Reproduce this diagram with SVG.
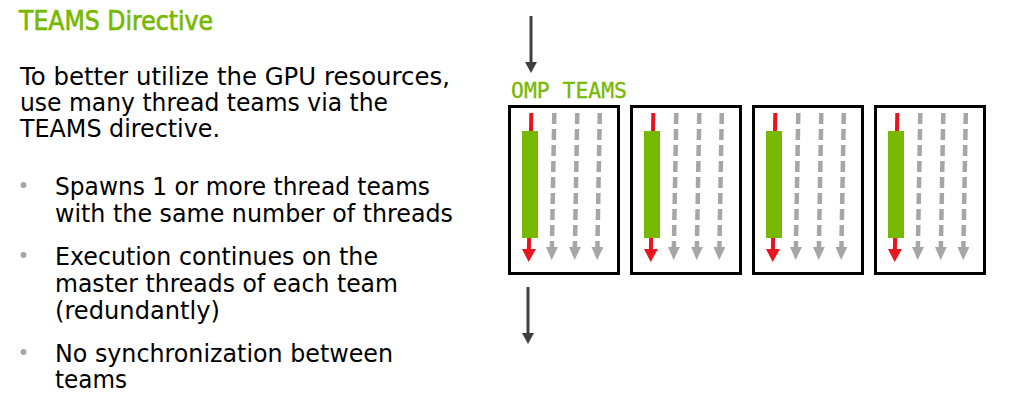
<svg xmlns="http://www.w3.org/2000/svg" width="1020" height="409" viewBox="0 0 1020 409">
<style>
.title{font-family:"DejaVu Sans","Liberation Sans",sans-serif;font-size:26px;fill:#76b900;stroke:#76b900;stroke-width:0.7}
.body{font-family:"DejaVu Sans","Liberation Sans",sans-serif;font-size:25px;fill:#000}
.mono{font-family:"DejaVu Sans Mono","Liberation Mono",monospace;font-size:21px;fill:#76b900;stroke:#76b900;stroke-width:0.3}
.box{fill:#fff;stroke:#000;stroke-width:3}
.master{fill:#76b900}
.red{stroke:#e8141f;stroke-width:4;fill:none}
.gray{stroke:#a6a6a6;stroke-width:4.5;stroke-dasharray:11 5;fill:none}
.flow{stroke:#404040;stroke-width:3;fill:none}
.dot{fill:#a6a6a6}
</style>
<defs>
<marker id="hRed" markerUnits="userSpaceOnUse" markerWidth="13" markerHeight="14" viewBox="0 0 13 14" refX="0" refY="7" orient="auto"><path d="M0,0 L13,7 L0,14 z" fill="#e8141f"/></marker>
<marker id="hGray" markerUnits="userSpaceOnUse" markerWidth="13" markerHeight="12" viewBox="0 0 13 12" refX="0" refY="6" orient="auto"><path d="M0,0 L13,6 L0,12 z" fill="#a6a6a6"/></marker>
<marker id="hDark" markerUnits="userSpaceOnUse" markerWidth="11" markerHeight="12" viewBox="0 0 11 12" refX="0" refY="6" orient="auto"><path d="M0,0 L11,6 L0,12 z" fill="#404040"/></marker>
</defs>
<rect width="1020" height="409" fill="#fff"/>

<g id="text">
<text class="title" x="19" y="30" textLength="194" lengthAdjust="spacingAndGlyphs">TEAMS Directive</text>
<text class="body" x="20" y="85" textLength="430" lengthAdjust="spacingAndGlyphs">To better utilize the GPU resources,</text>
<text class="body" x="20" y="111" textLength="368" lengthAdjust="spacingAndGlyphs">use many thread teams via the</text>
<text class="body" x="20" y="137" textLength="200" lengthAdjust="spacingAndGlyphs">TEAMS directive.</text>
<circle class="dot" cx="23.5" cy="185" r="3"/>
<text class="body" x="55" y="195" textLength="375" lengthAdjust="spacingAndGlyphs">Spawns 1 or more thread teams</text>
<text class="body" x="55" y="222" textLength="398" lengthAdjust="spacingAndGlyphs">with the same number of threads</text>
<circle class="dot" cx="23.5" cy="255" r="3"/>
<text class="body" x="55" y="265" textLength="323" lengthAdjust="spacingAndGlyphs">Execution continues on the</text>
<text class="body" x="55" y="292" textLength="343" lengthAdjust="spacingAndGlyphs">master threads of each team</text>
<text class="body" x="55" y="319" textLength="165" lengthAdjust="spacingAndGlyphs">(redundantly)</text>
<circle class="dot" cx="23.5" cy="352" r="3"/>
<text class="body" x="55" y="362" textLength="338" lengthAdjust="spacingAndGlyphs">No synchronization between</text>
<text class="body" x="55" y="388" textLength="72" lengthAdjust="spacingAndGlyphs">teams</text>
</g>

<g id="label">
<text class="mono" x="511" y="98" textLength="116" lengthAdjust="spacingAndGlyphs">OMP TEAMS</text>
</g>

<g id="team1">
<rect class="box" x="509.5" y="106.5" width="109" height="167"/>
<line class="red" x1="531.3" y1="113" x2="528.9" y2="249" marker-end="url(#hRed)"/>
<rect class="master" x="522" y="131" width="16" height="107"/>
<line class="gray" x1="554.3" y1="113" x2="551.9" y2="247" marker-end="url(#hGray)"/>
<line class="gray" x1="577.3" y1="113" x2="574.9" y2="247" marker-end="url(#hGray)"/>
<line class="gray" x1="599.8" y1="113" x2="597.4" y2="247" marker-end="url(#hGray)"/>
</g>
<g id="team2">
<rect class="box" x="631.5" y="106.5" width="109" height="167"/>
<line class="red" x1="653.3" y1="113" x2="650.9" y2="249" marker-end="url(#hRed)"/>
<rect class="master" x="644" y="131" width="16" height="107"/>
<line class="gray" x1="676.3" y1="113" x2="673.9" y2="247" marker-end="url(#hGray)"/>
<line class="gray" x1="699.3" y1="113" x2="696.9" y2="247" marker-end="url(#hGray)"/>
<line class="gray" x1="721.8" y1="113" x2="719.4" y2="247" marker-end="url(#hGray)"/>
</g>
<g id="team3">
<rect class="box" x="753.5" y="106.5" width="109" height="167"/>
<line class="red" x1="775.3" y1="113" x2="772.9" y2="249" marker-end="url(#hRed)"/>
<rect class="master" x="766" y="131" width="16" height="107"/>
<line class="gray" x1="798.3" y1="113" x2="795.9" y2="247" marker-end="url(#hGray)"/>
<line class="gray" x1="821.3" y1="113" x2="818.9" y2="247" marker-end="url(#hGray)"/>
<line class="gray" x1="843.8" y1="113" x2="841.4" y2="247" marker-end="url(#hGray)"/>
</g>
<g id="team4">
<rect class="box" x="875.5" y="106.5" width="109" height="167"/>
<line class="red" x1="897.3" y1="113" x2="894.9" y2="249" marker-end="url(#hRed)"/>
<rect class="master" x="888" y="131" width="16" height="107"/>
<line class="gray" x1="920.3" y1="113" x2="917.9" y2="247" marker-end="url(#hGray)"/>
<line class="gray" x1="943.3" y1="113" x2="940.9" y2="247" marker-end="url(#hGray)"/>
<line class="gray" x1="965.8" y1="113" x2="963.4" y2="247" marker-end="url(#hGray)"/>
</g>

<g id="connectors">
<line class="flow" x1="531" y1="16" x2="531" y2="62" marker-end="url(#hDark)"/>
<line class="flow" x1="528" y1="287" x2="528" y2="333" marker-end="url(#hDark)"/>
</g>
</svg>
